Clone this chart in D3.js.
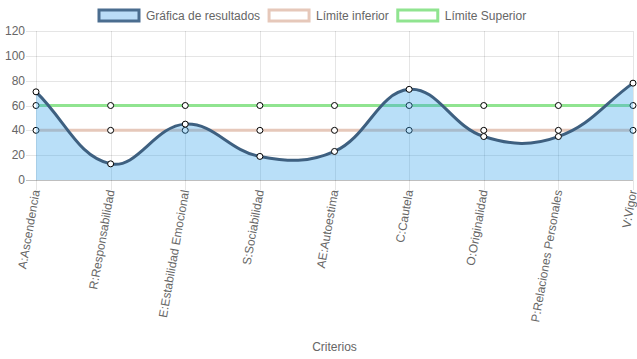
<!DOCTYPE html>
<html>
<head>
<meta charset="utf-8">
<script src="https://cdn.jsdelivr.net/npm/d3@7"></script>
<style>
html,body{margin:0;padding:0;background:#fff;}
svg{display:block;}
text{font-family:"Liberation Sans",Arial,Helvetica,sans-serif;}
</style>
</head>
<body>
<svg id="chart" width="637" height="359"></svg>
<script>
const categories = ["A:Ascendencia","R:Responsabilidad","E:Estabilidad Emocional","S:Sociabilidad","AE:Autoestima","C:Cautela","O:Originalidad","P:Relaciones Personales","V:Vigor"];
const resultados = [71, 13, 45, 19, 23, 73, 35, 35, 78];
const limiteInferior = [40, 40, 40, 40, 40, 40, 40, 40, 40];
const limiteSuperior = [60, 60, 60, 60, 60, 60, 60, 60, 60];
const yTicks = [0, 20, 40, 60, 80, 100, 120];
const legendLabels = ["Gráfica de resultados", "Límite inferior", "Límite Superior"];
const axisTitle = "Criterios";

const pLeft = 36, pRight = 633, pTop = 31, pBottom = 180;
const svg = d3.select("#chart");
const x = d3.scalePoint().domain(categories).range([pLeft, pRight]);
const y = d3.scaleLinear().domain([0, 120]).range([pBottom, pTop]);

const gridColor = "rgba(0,0,0,0.1)";
const textColor = "#666";

// Horizontal gridlines + y labels
const gy = svg.append("g");
yTicks.forEach(t => {
  const yy = Math.round(y(t)) + 0.5;
  gy.append("line").attr("x1", 26).attr("x2", pRight).attr("y1", yy).attr("y2", yy)
    .attr("stroke", t === 0 ? "rgba(0,0,0,0.25)" : gridColor).attr("stroke-width", 1);
  gy.append("text").attr("x", 25).attr("y", y(t)).attr("text-anchor", "end")
    .attr("dominant-baseline", "central").attr("font-size", 12).attr("fill", textColor).text(t);
});
// Vertical gridlines
categories.forEach(c => {
  const xx = Math.round(x(c)) + 0.5;
  gy.append("line").attr("x1", xx).attr("x2", xx).attr("y1", pTop).attr("y2", pBottom + 10)
    .attr("stroke", gridColor).attr("stroke-width", 1);
});
// X labels rotated
const rot = 80;
categories.forEach(c => {
  svg.append("text")
    .attr("transform", `translate(${x(c)},${pBottom + 10}) rotate(${-rot})`)
    .attr("text-anchor", "end").attr("dominant-baseline", "central")
    .attr("font-size", 12).attr("fill", textColor).text(c);
});
svg.append("text").attr("x", (pLeft + pRight) / 2).attr("y", 347).attr("text-anchor", "middle")
  .attr("dominant-baseline", "central").attr("font-size", 12).attr("fill", textColor).text(axisTitle);

// Chart.js style spline (tension 0.4)
function splinePath(vals) {
  const pts = vals.map((v, i) => ({x: x(categories[i]), y: y(v)}));
  const t = 0.4;
  const cps = pts.map((p, i) => {
    const prev = pts[i - 1] || p, next = pts[i + 1] || p;
    const d01 = Math.hypot(p.x - prev.x, p.y - prev.y);
    const d12 = Math.hypot(next.x - p.x, next.y - p.y);
    let s01 = d01 / (d01 + d12), s12 = d12 / (d01 + d12);
    if (isNaN(s01)) s01 = 0; if (isNaN(s12)) s12 = 0;
    const fa = t * s01, fb = t * s12;
    let c1 = {x: p.x - fa * (next.x - prev.x), y: p.y - fa * (next.y - prev.y)};
    let c2 = {x: p.x + fb * (next.x - prev.x), y: p.y + fb * (next.y - prev.y)};
    [c1, c2].forEach(c => { c.x = Math.max(pLeft, Math.min(pRight, c.x)); c.y = Math.max(pTop, Math.min(pBottom, c.y)); });
    return {c1, c2};
  });
  const path = d3.path();
  path.moveTo(pts[0].x, pts[0].y);
  for (let i = 1; i < pts.length; i++) {
    path.bezierCurveTo(cps[i - 1].c2.x, cps[i - 1].c2.y, cps[i].c1.x, cps[i].c1.y, pts[i].x, pts[i].y);
  }
  return {d: path.toString(), pts};
}

function drawPoints(vals) {
  svg.append("g").selectAll("circle").data(vals).join("circle")
    .attr("cx", (d, i) => x(categories[i])).attr("cy", d => y(d)).attr("r", 3)
    .attr("fill", "#fff").attr("stroke", "#000").attr("stroke-width", 1);
}

const line = d3.line().x((d, i) => x(categories[i])).y(d => y(d));
const colSup = "rgb(144,228,144)", colInf = "rgb(230,200,186)";
const colRes = "rgb(62,96,128)", fillRes = "rgba(54,162,235,0.35)";

// Límite Superior (drawn first)
svg.append("path").attr("d", line(limiteSuperior)).attr("fill", "none").attr("stroke", colSup).attr("stroke-width", 3);
drawPoints(limiteSuperior);
// Límite inferior
svg.append("path").attr("d", line(limiteInferior)).attr("fill", "none").attr("stroke", colInf).attr("stroke-width", 3);
drawPoints(limiteInferior);
// Resultados
const sp = splinePath(resultados);
svg.append("path").attr("d", sp.d + `L${pRight},${y(0)}L${pLeft},${y(0)}Z`).attr("fill", fillRes).attr("stroke", "none");
svg.append("path").attr("d", sp.d).attr("fill", "none").attr("stroke", colRes).attr("stroke-width", 3);
drawPoints(resultados);

// Legend
const lg = svg.append("g");
const items = [
  {label: legendLabels[0], fill: "rgb(186,220,247)", stroke: "rgb(74,109,143)"},
  {label: legendLabels[1], fill: "#fff", stroke: colInf},
  {label: legendLabels[2], fill: "#fff", stroke: colSup}
];
let lx = 99;
items.forEach(it => {
  lg.append("rect").attr("x", lx).attr("y", 10).attr("width", 40).attr("height", 11)
    .attr("fill", it.fill).attr("stroke", it.stroke).attr("stroke-width", 3);
  const tx = lg.append("text").attr("x", lx + 47).attr("y", 15.5).attr("dominant-baseline", "central")
    .attr("font-size", 12).attr("fill", textColor).text(it.label);
  lx += 47 + tx.node().getComputedTextLength() + 9;
});
</script>
</body>
</html>
